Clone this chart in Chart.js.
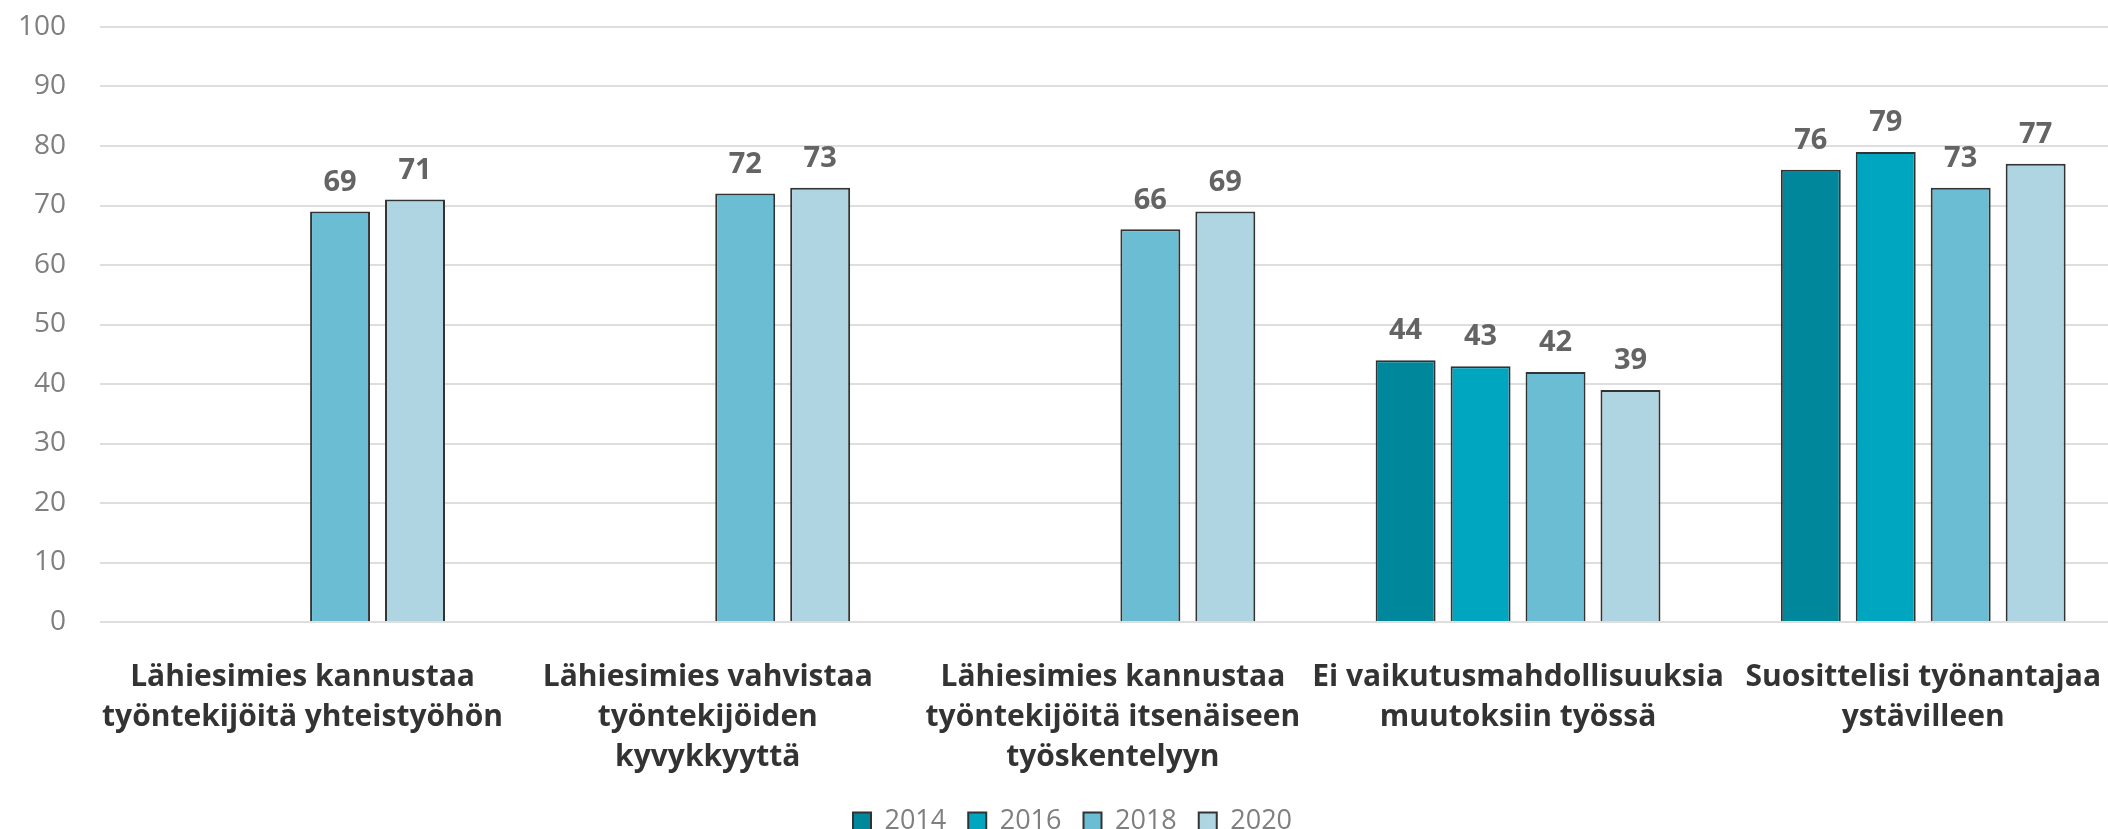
<!DOCTYPE html>
<html>
<head>
<meta charset="utf-8">
<script src="https://cdn.jsdelivr.net/npm/chart.js@4"></script>
<style>
  html, body { margin: 0; padding: 0; background: #fff; overflow: hidden; }
  #wrap { width: 2128px; height: 845px; }
</style>
</head>
<body>
<div id="wrap"><canvas id="barChart"></canvas></div>
<script>
const categories = [
    ["Lähiesimies kannustaa", "työntekijöitä yhteistyöhön"],
    ["Lähiesimies vahvistaa", "työntekijöiden", "kyvykkyyttä"],
    ["Lähiesimies kannustaa", "työntekijöitä itsenäiseen", "työskentelyyn"],
    ["Ei vaikutusmahdollisuuksia", "muutoksiin työssä"],
    ["Suosittelisi työnantajaa", "ystävilleen"]
];
const years = ["2014", "2016", "2018", "2020"];
const values2014 = [null, null, null, 44, 76];
const values2016 = [null, null, null, 43, 79];
const values2018 = [69, 72, 66, 42, 73];
const values2020 = [71, 73, 69, 39, 77];
const colors = ["#00879c", "#00a5c0", "#6abdd2", "#b0d5e2"];

const FONT = "'Open Sans', 'Noto Sans', sans-serif";

// draw the value above each bar
const valueLabels = {
    id: "valueLabels",
    afterDatasetsDraw(chart) {
        const ctx = chart.ctx;
        ctx.save();
        ctx.font = "bold 29px " + FONT;
        ctx.fillStyle = "#646464";
        ctx.textAlign = "center";
        ctx.textBaseline = "middle";
        chart.data.datasets.forEach((ds, i) => {
            chart.getDatasetMeta(i).data.forEach((bar, j) => {
                if (ds.data[j] == null) return;
                ctx.fillText(ds.data[j], bar.x, bar.y - 29);
            });
        });
        ctx.restore();
    }
};

const allValues = [values2014, values2016, values2018, values2020];

const ctx = document.getElementById("barChart").getContext("2d");
const barChart = new Chart(ctx, {
    type: "bar",
    data: {
        labels: categories,
        datasets: years.map((y, i) => ({
            label: y,
            data: allValues[i],
            backgroundColor: colors[i],
            borderColor: "#333333",
            borderWidth: 2,
            categoryPercentage: 0.74,
            barPercentage: 0.8
        }))
    },
    options: {
        responsive: true,
        maintainAspectRatio: false,
        animation: false,
        layout: { padding: { left: 17, top: 27, right: 0, bottom: 0 } },
        plugins: {
            tooltip: { enabled: false },
            legend: {
                position: "bottom",
                labels: {
                    boxWidth: 18,
                    boxHeight: 18,
                    padding: 22,
                    color: "#7f7f7f",
                    font: { size: 27, family: FONT }
                }
            }
        },
        scales: {
            x: {
                grid: { display: false },
                border: { display: false },
                afterFit(scale) { scale.height = 164; },
                ticks: {
                    color: "#333333",
                    padding: 27,
                    maxRotation: 0,
                    autoSkip: false,
                    font: { size: 30, weight: "bold", family: FONT, lineHeight: 1.333 }
                }
            },
            y: {
                min: 0,
                max: 100,
                border: { display: false },
                grid: { color: "#dedede", lineWidth: 2, drawTicks: false },
                afterFit(scale) {
                    scale.width = 83;
                    scale.paddingTop = 0;
                    scale.paddingBottom = 0;
                },
                ticks: {
                    stepSize: 10,
                    color: "#7f7f7f",
                    padding: 34,
                    font: { size: 28, family: FONT }
                }
            }
        }
    },
    plugins: [valueLabels]
});
</script>
</body>
</html>
